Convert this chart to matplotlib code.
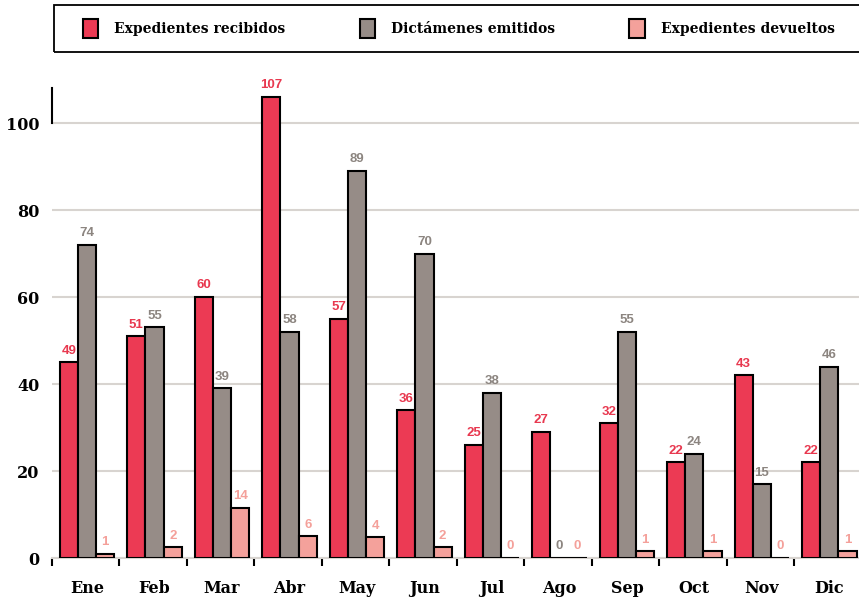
import numpy as np
import matplotlib
matplotlib.use("Agg")
import matplotlib.pyplot as plt
from matplotlib.ticker import FixedLocator
from matplotlib.patches import Rectangle

# datos
meses = ["Ene", "Feb", "Mar", "Abr", "May", "Jun", "Jul", "Ago", "Sep", "Oct", "Nov", "Dic"]
series = ["Expedientes recibidos", "Dictámenes emitidos", "Expedientes devueltos"]

recibidos = [45, 51, 60, 106, 55, 34, 26, 29, 31, 22, 42, 22]
emitidos = [72, 53, 39, 52, 89, 70, 38, 0, 52, 24, 17, 44]
devueltos = [1, 2.5, 11.5, 5, 4.8, 2.5, 0, 0, 1.5, 1.5, 0, 1.5]

# etiquetas impresas sobre cada barra
etq_recibidos = ["49", "51", "60", "107", "57", "36", "25", "27", "32", "22", "43", "22"]
etq_emitidos = ["74", "55", "39", "58", "89", "70", "38", "0", "55", "24", "15", "46"]
etq_devueltos = ["1", "2", "14", "6", "4", "2", "0", "0", "1", "1", "0", "1"]

colores = ["#EC3A54", "#968C87", "#F4A19B"]
colores_txt = ["#E8384F", "#8C8580", "#F4A09A"]
serif = "DejaVu Serif"

fig = plt.figure(figsize=(8.59, 6.03), dpi=100)
ax = fig.add_axes([0.0605, 0.0746, 0.9395, 0.779])

x = np.arange(len(meses))
ancho = 0.27
offsets = [-0.25, 0.02, 0.29]
valores = [recibidos, emitidos, devueltos]
etiquetas = [etq_recibidos, etq_emitidos, etq_devueltos]

ax.set_axisbelow(True)
for k in range(3):
    bars = ax.bar(x + offsets[k], valores[k], ancho, color=colores[k],
                  edgecolor="black", linewidth=1.5, label=series[k], zorder=3)
    for b, t in zip(bars, etiquetas[k]):
        ax.annotate(t, (b.get_x() + b.get_width() / 2, b.get_height()),
                    xytext=(0, 4), textcoords="offset points", ha="center", va="bottom",
                    fontsize=9.5, fontweight="bold", color=colores_txt[k],
                    family="Liberation Sans", zorder=4)

ax.set_ylim(0, 108)
ax.set_xlim(-0.5, 11.46)
ax.set_yticks([0, 20, 40, 60, 80, 100])
ax.yaxis.grid(True, color="#D8D4D0", linewidth=1.5)
ax.tick_params(axis="y", length=0, pad=9)
for lbl in ax.get_yticklabels():
    lbl.set_fontfamily(serif)
    lbl.set_fontweight("bold")
    lbl.set_fontsize(11.5)

ax.set_xticks(x + 0.02)
ax.set_xticklabels(meses, fontfamily=serif, fontweight="bold", fontsize=11.5)
ax.tick_params(axis="x", which="major", length=0, pad=16)
ax.xaxis.set_minor_locator(FixedLocator(np.arange(-0.5, 11.5, 1)))
ax.tick_params(axis="x", which="minor", length=6, width=1.5, color="black", direction="out")

for s in ["top", "right"]:
    ax.spines[s].set_visible(False)
ax.spines["bottom"].set_color("#D8D4D0")
ax.spines["bottom"].set_linewidth(1.5)
ax.spines["left"].set_bounds(100, 108)
ax.spines["left"].set_linewidth(1.5)

# leyenda sin marco + recuadro propio
fig.patches.append(Rectangle((54 / 859, 1 - 52 / 603), 810 / 859, 47 / 603,
                             transform=fig.transFigure, fill=False,
                             edgecolor="black", linewidth=1.3))
leg = fig.legend(loc="center left", ncol=3,
                 bbox_to_anchor=(83 / 859, 1 - 28.5 / 603),
                 prop={"family": serif, "size": 10, "weight": "bold"},
                 frameon=False, handlelength=1.1, handleheight=1.7,
                 handletextpad=1.15, borderpad=0, borderaxespad=0, columnspacing=5.35)

fig.savefig("out.png", dpi=100)
